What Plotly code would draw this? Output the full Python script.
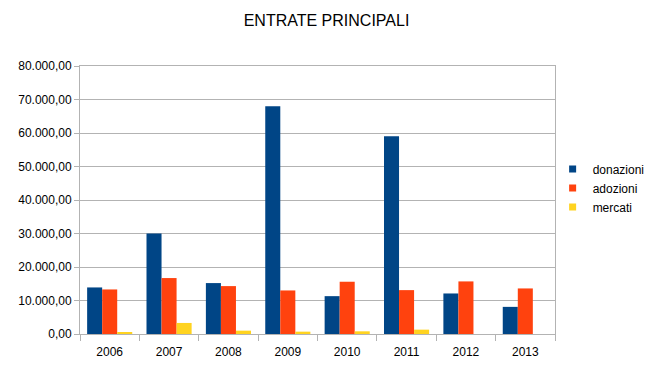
import plotly.graph_objects as go

years = ["2006", "2007", "2008", "2009", "2010", "2011", "2012", "2013"]
donazioni = [13900, 30000, 15200, 68000, 11300, 59000, 12100, 8100]
adozioni = [13300, 16700, 14300, 13000, 15600, 13100, 15700, 13600]
mercati = [400, 3300, 1000, 700, 800, 1300, 0, 0]

series = [("donazioni", donazioni, "#004586"),
          ("adozioni", adozioni, "#ff420e"),
          ("mercati", mercati, "#ffd320")]

fig = go.Figure()
for name, vals, col in series:
    fig.add_trace(go.Bar(x=years, y=vals, name=name, marker_color=col,
                         marker_line_width=0, showlegend=False, legendgroup=name))
for name, vals, col in series:
    fig.add_trace(go.Scatter(x=[None], y=[None], mode="markers", name=name,
                             legendgroup=name,
                             marker=dict(symbol="square", size=7, color=col)))

axis_col = "#b3b3b3"
W, H = 647, 368  # page body has an 8px margin
fig.update_layout(
    width=W, height=H,
    paper_bgcolor="white", plot_bgcolor="white",
    font=dict(family="Liberation Sans, Arial, sans-serif", size=12, color="#000000"),
    title=dict(text="ENTRATE PRINCIPALI", x=0.519, xref="paper", xanchor="center",
               y=1 - 12 / H, yanchor="middle",
               font=dict(size=16, color="#000000")),
    margin=dict(l=72, r=100, t=58, b=42, autoexpand=False),
    barmode="group", bargap=0.24, bargroupgap=0,
    separators=",.",
    legend=dict(x=0.995, y=0.545, xanchor="left", yanchor="middle",
                bgcolor="rgba(0,0,0,0)",
                font=dict(size=12), itemwidth=30, tracegroupgap=0),
    showlegend=True,
)
fig.update_yaxes(range=[0, 80000], dtick=10000, tickformat=",.2f",
                 showgrid=True, gridcolor=axis_col, gridwidth=1,
                 showline=True, linecolor=axis_col, mirror=True,
                 ticks="outside", ticklen=5, tickcolor=axis_col,
                 zeroline=False, tickfont=dict(size=12))
fig.update_xaxes(showline=True, linecolor=axis_col, mirror=True,
                 ticks="outside", ticklen=6, tickcolor=axis_col,
                 tickson="boundaries", showgrid=False, tickfont=dict(size=12),
                 ticklabelstandoff=7)

fig.write_html("out.html")
